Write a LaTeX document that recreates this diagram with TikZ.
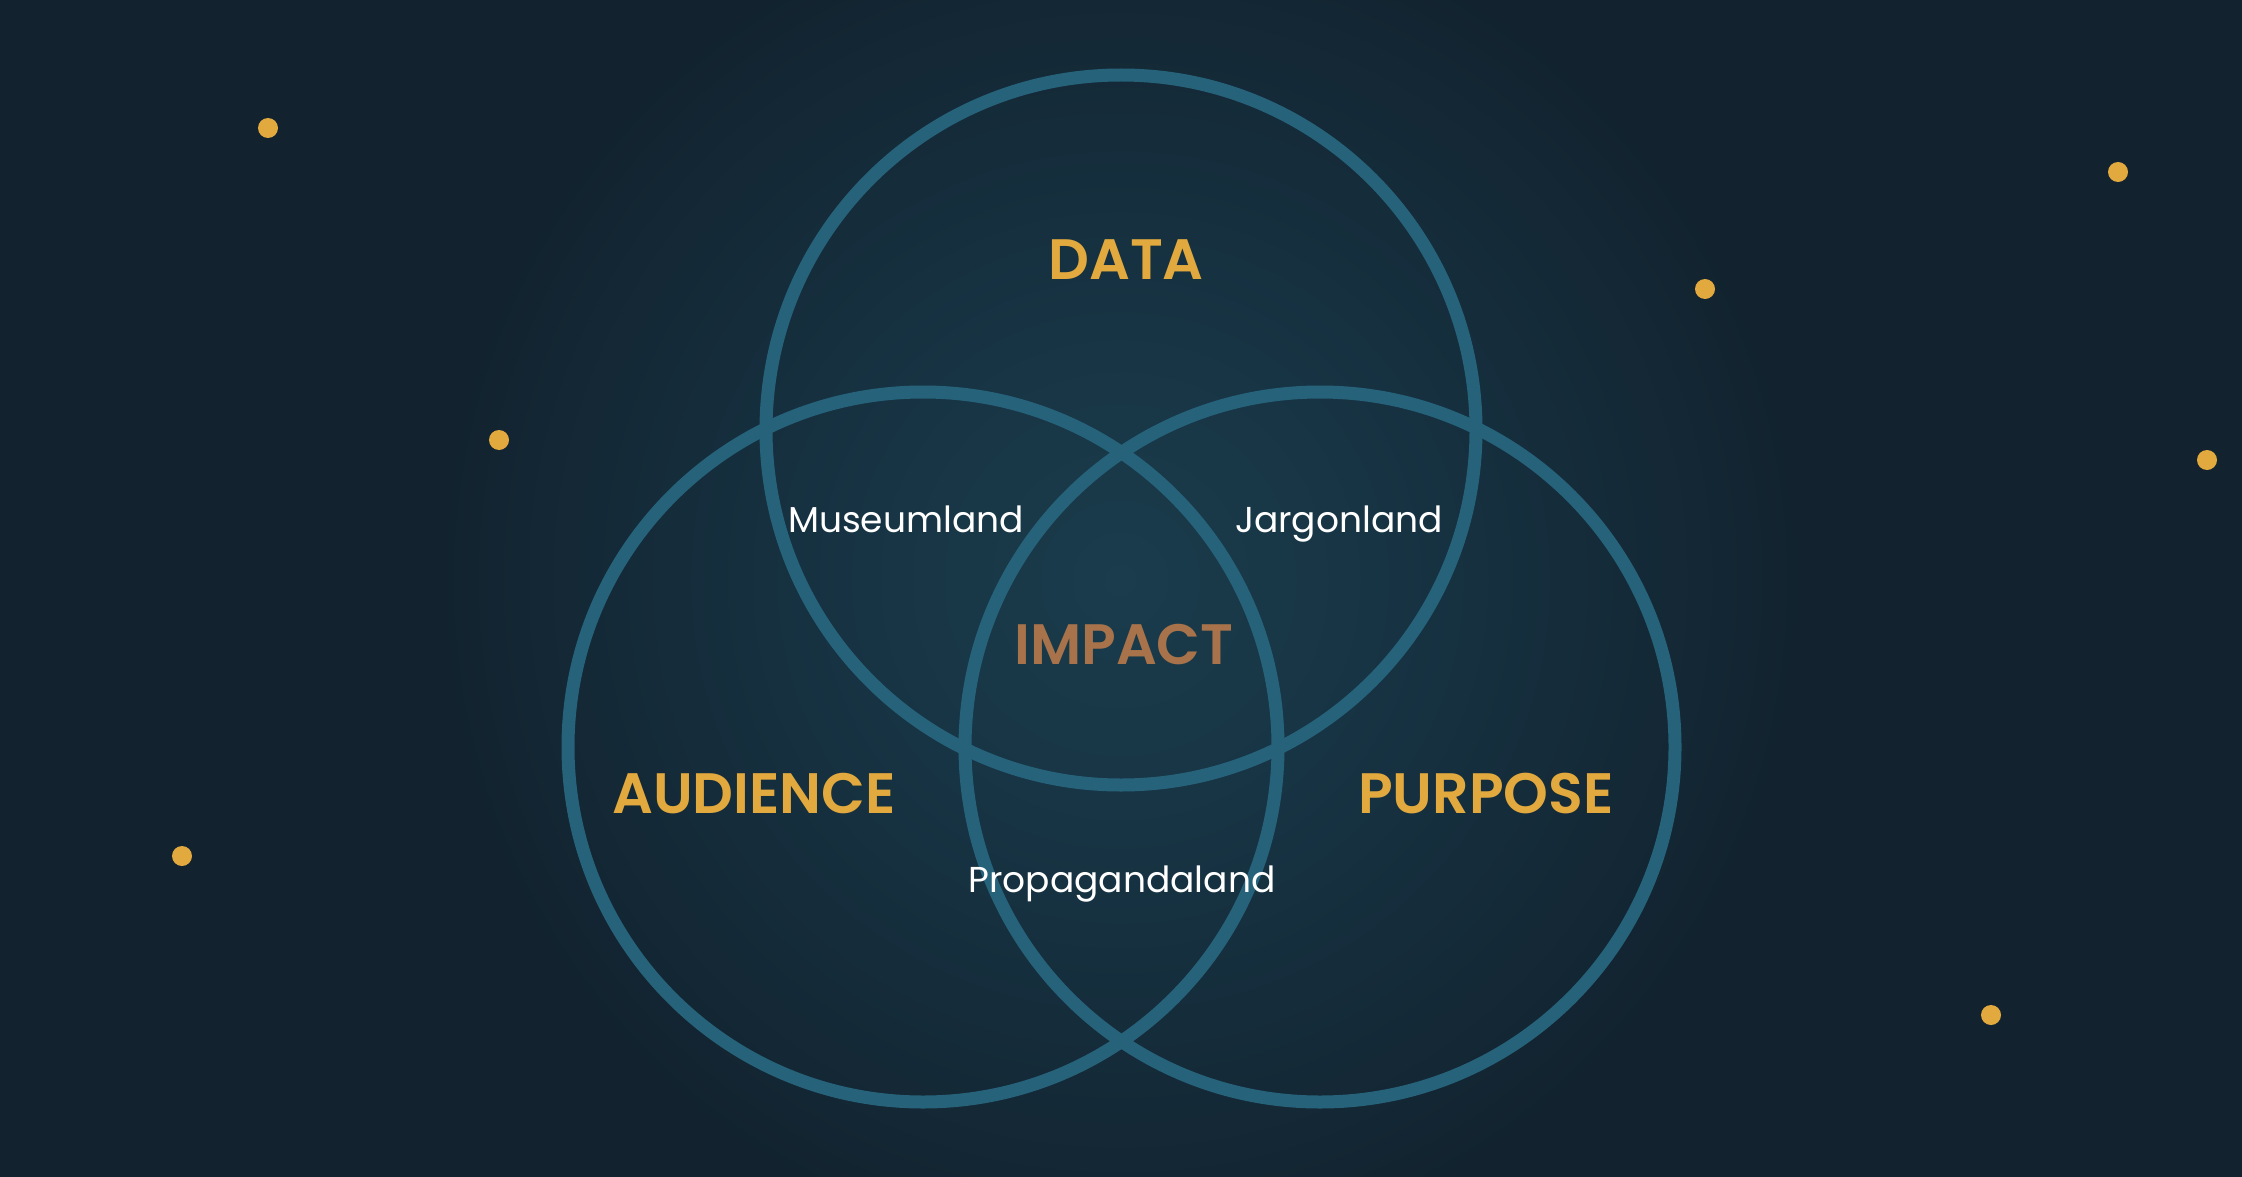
\documentclass[tikz,border=0pt]{standalone}
\usepackage{fontspec}
\setmainfont{Poppins}
\newfontfamily\titlefont{Poppins SemiBold}
\definecolor{bg}{HTML}{12222E}
\definecolor{glowin}{HTML}{1A3C4C}
\definecolor{glowmid}{HTML}{173444}
\definecolor{ring}{HTML}{26637B}
\definecolor{gold}{HTML}{E2A93E}
\definecolor{bronze}{HTML}{A8734A}
\pgfdeclareradialshading{glow}{\pgfpoint{0bp}{0bp}}{color(0bp)=(glowin); color(4bp)=(glowmid); color(11bp)=(bg); color(50bp)=(bg)}
\begin{document}
\begin{tikzpicture}[x=1pt,y=-1pt,
  ring/.style={circle,draw=ring,line width=13pt,minimum size=710pt,inner sep=0pt},
  star/.style={circle,fill=gold,minimum size=20pt,inner sep=0pt},
  title/.style={anchor=base,text=gold,font=\titlefont\fontsize{57}{60}\selectfont},
  impact/.style={anchor=base,text=bronze,font=\titlefont\fontsize{57}{60}\selectfont},
  zone/.style={anchor=base,text=white,font=\fontsize{36}{40}\selectfont}]
\useasboundingbox (0,0) rectangle (2242,1177);
\begin{scope}
\clip (0,0) rectangle (2242,1177);
\fill[bg] (0,0) rectangle (2242,1177);
\shade[shading=glow] (1120,580) circle (1600pt);
\end{scope}
% stars
\node[star] (s1) at (268,128) {};
\node[star] (s2) at (499,440) {};
\node[star] (s3) at (182,856) {};
\node[star] (s4) at (1705,289) {};
\node[star] (s5) at (2118,172) {};
\node[star] (s6) at (2207,460) {};
\node[star] (s7) at (1991,1015) {};
% rings
\node[ring] (cdata) at (1121,430) {};
\node[ring] (caud) at (923,747) {};
\node[ring] (cpur) at (1320,747) {};
% labels
\node[title] (tdata) at (1126,279) {DATA};
\node[title] (taud) at (754,813) {AUDIENCE};
\node[title] (tpur) at (1486,813) {PURPOSE};
\node[impact] (timp) at (1124,664) {IMPACT};
\node[zone] (zmus) at (906,532) {Museumland};
\node[zone] (zjar) at (1339,532) {Jargonland};
\node[zone] (zpro) at (1122,892) {Propagandaland};
\end{tikzpicture}
\end{document}
